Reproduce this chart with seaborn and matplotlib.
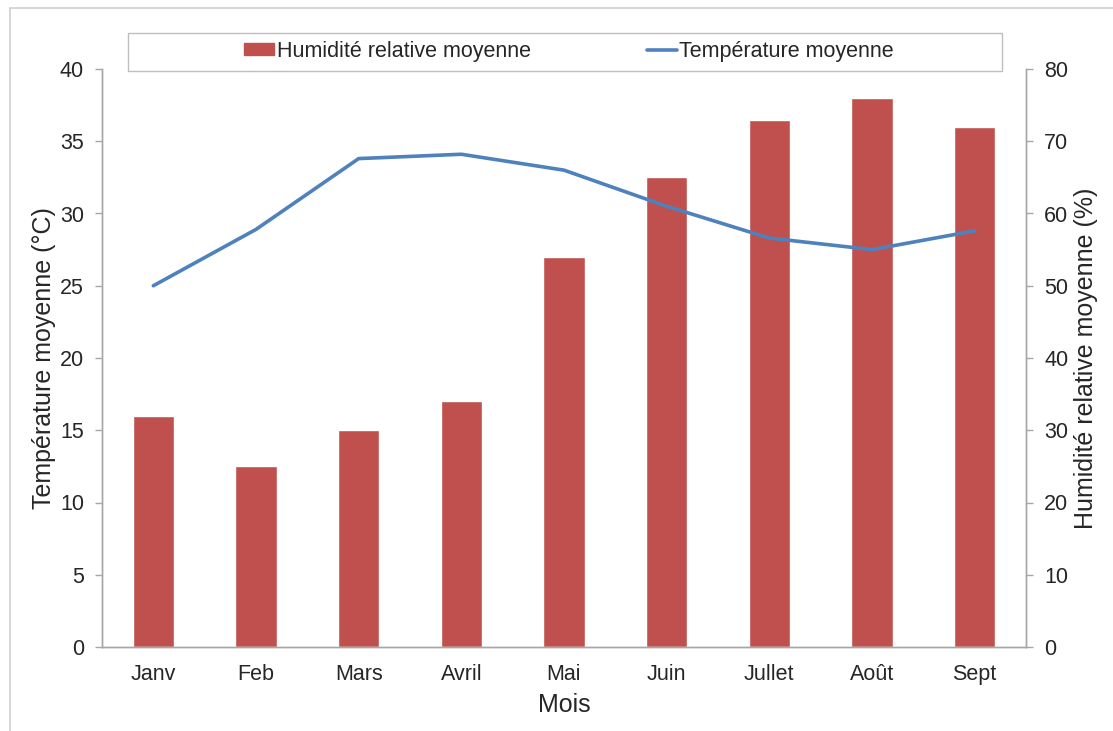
import numpy as np
import pandas as pd
import matplotlib
matplotlib.use("Agg")
import matplotlib.pyplot as plt
from matplotlib.patches import Rectangle
import seaborn as sns

# Monthly climate data
mois = ["Janv", "Feb", "Mars", "Avril", "Mai", "Juin", "Jullet", "Août", "Sept"]
humidite = [32, 25, 30, 34, 54, 65, 73, 76, 72]
temperature = [25.0, 28.9, 33.8, 34.1, 33.0, 30.5, 28.3, 27.5, 28.8]

df = pd.DataFrame({"mois": mois, "humidite": humidite, "temperature": temperature})

sns.set_style("white")
plt.rcParams["font.family"] = ["Liberation Sans", "DejaVu Sans"]

red = "#C0504D"
blue = "#4F81BD"
grey = "#A6A6A6"
txt = "#262626"

fig = plt.figure(figsize=(11.13, 7.31), dpi=100)
ax = fig.add_axes([102 / 1113, 84 / 731, 924 / 1113, 578 / 731])
ax2 = ax.twinx()

# bars on the right axis, line on the left axis (drawn on top)
sns.barplot(data=df, x="mois", y="humidite", color=red, width=0.4,
            saturation=1, ax=ax2, zorder=2)
sns.lineplot(data=df, x="mois", y="temperature", color=blue, linewidth=2.6,
             sort=False, ax=ax, zorder=3)
ax.set_zorder(ax2.get_zorder() + 1)
ax.patch.set_visible(False)

ax.set_xlim(-0.5, len(mois) - 0.5)
ax.set_ylim(0, 40)
ax2.set_ylim(0, 80)
ax.set_yticks(np.arange(0, 41, 5))
ax2.set_yticks(np.arange(0, 81, 10))

# category ticks between bars
ax.set_xticks(np.arange(len(mois)))
ax.set_xticklabels(mois)
ax.set_xticks(np.arange(-0.5, len(mois), 1), minor=True)
ax.tick_params(axis="x", which="major", length=0, pad=12, labelsize=15.5, labelcolor=txt)
ax.tick_params(axis="x", which="minor", length=5, color=grey, width=1)
ax.tick_params(axis="y", length=5, color=grey, width=1, labelsize=15.5, labelcolor=txt, pad=8)
ax2.tick_params(axis="y", length=5, color=grey, width=1, labelsize=15.5, labelcolor=txt, pad=8)

for a in (ax, ax2):
    a.spines["top"].set_visible(False)
    for s in ("left", "right", "bottom"):
        a.spines[s].set_color(grey)
        a.spines[s].set_linewidth(1)

ax.set_xlabel("Mois", fontsize=18, color=txt, labelpad=6)
ax.set_ylabel("Température moyenne (°C)", fontsize=18, color=txt, labelpad=2.5)
ax2.set_ylabel("Humidité relative moyenne (%)", fontsize=18, color=txt, labelpad=4.5)

# legend box above the plot
fig.patches.append(Rectangle((128 / 1113, 660 / 731), 874 / 1113, 38 / 731,
                             transform=fig.transFigure, fill=False,
                             edgecolor="#BFBFBF", linewidth=1))
handles = [Rectangle((0, 0), 1, 1, color=red),
           plt.Line2D([], [], color=blue, linewidth=2.6)]
fig.legend(handles, ["Humidité relative moyenne", "Température moyenne"],
           loc="center", bbox_to_anchor=(569 / 1113, 680 / 731), ncol=2,
           frameon=False, fontsize=15.5, handlelength=1.4, handleheight=0.5,
           handletextpad=0.1, columnspacing=5.4, labelcolor=txt)

# outer frame of the figure
fig.patches.append(Rectangle((10 / 1113, -0.05), 1.1, (723 / 731) + 0.05,
                             transform=fig.transFigure, fill=False,
                             edgecolor="#D0D0D0", linewidth=1.2))

fig.savefig("out.png", dpi=100)
